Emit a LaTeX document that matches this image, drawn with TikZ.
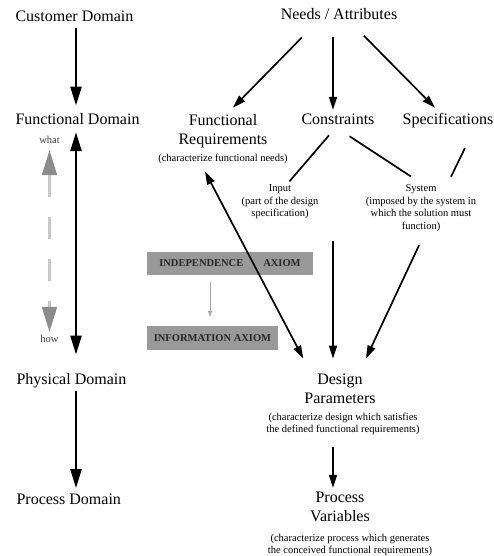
\documentclass[tikz,border=0pt]{standalone}
\usepackage{fontspec}
\setmainfont{Liberation Serif}
\usetikzlibrary{arrows.meta}

\begin{document}
\begin{tikzpicture}[x=1pt, y=-1pt,
        big/.style={font=\fontsize{16}{19}\selectfont, align=center},
        note/.style={font=\fontsize{10.5}{12.5}\selectfont, align=center},
        small/.style={font=\fontsize{10.5}{12.5}\selectfont, text=black!75},
        axiombox/.style={fill=black!40, text=black!85, font=\fontsize{10.5}{12.5}\selectfont\bfseries, minimum height=23pt, inner sep=0pt},
        arr/.style={line width=1.7pt, -{Triangle[length=13pt,width=8pt]}},
        dblarr/.style={line width=1.7pt, {Triangle[length=13pt,width=8pt]}-{Triangle[length=13pt,width=8pt]}},
        bigarr/.style={line width=2.4pt, -{Triangle[length=19pt,width=11pt]}},
        bigdbl/.style={line width=2.4pt, {Triangle[length=19pt,width=11pt]}-{Triangle[length=19pt,width=11pt]}},
        link/.style={line width=1.7pt},
        greydash/.style={draw=black!22, line width=2.2pt, dash pattern=on 22pt off 20pt,
            {Triangle[length=25pt,width=15pt,color=black!45]}-{Triangle[length=25pt,width=15pt,color=black!45]}},
        greyarr/.style={draw=black!35, line width=0.8pt, -{Triangle[length=6pt,width=4pt]}}]

        % 枠
        \useasboundingbox (0,0) rectangle (494,556);

        % 左の列（ドメイン）
        \node[big, anchor=base west] (cd) at (12,22) {Customer Domain};
        \node[big, anchor=base west] (fd) at (12,125) {Functional Domain};
        \node[big, anchor=base west] (pd) at (13,384) {Physical Domain};
        \node[big, anchor=base west] (prd) at (13,504) {Process Domain};
        \node[small] (what) at (49.5,140) {what};
        \node[small] (how) at (49.5,339) {how};
        \coordinate (lcol) at (76,0);

        % 右側
        \node[big, anchor=base] (na) at (339,20) {Needs / Attributes};
        \node[big] (fr) at (223,131) {Functional\\Requirements};
        \node[note, anchor=base] (frnote) at (223,161) {(characterize functional needs)};
        \node[big, anchor=base] (con) at (338,125) {Constraints};
        \node[big, anchor=base] (spec) at (448,125) {Specifications};
        \node[note] (input) at (280,202) {Input\\(part of the design\\specification)};
        \node[note] (system) at (421,208) {System\\(imposed by the system in\\which the solution must\\function)};
        \coordinate (ccol) at (333,0);
        \coordinate (cbot) at (333,241);

        % 公理の箱
        \node[axiombox, minimum width=166pt] (indep) at (230,263.5) {INDEPENDENCE\hspace{20pt}AXIOM};
        \node[axiombox, minimum width=131pt, minimum height=24pt] (info) at (212.5,338) {INFORMATION AXIOM};

        % 下
        \node[big] (dp) at (340,389) {Design\\Parameters};
        \node[note] (dpnote) at (343,424) {(characterize design which satisfies\\the defined functional requirements)};
        \node[big] (pv) at (340,507) {Process\\Variables};
        \node[note] (pvnote) at (350,545) {(characterize process which generates\\the conceived functional requirements)};

        % 左の矢印
        \draw[bigarr, shorten <=2.7pt, shorten >=4.8pt] (cd.south -| lcol) -- (fd.north -| lcol);
        \draw[bigdbl, shorten <=3.5pt, shorten >=14.8pt] (fd.south -| lcol) -- (pd.north -| lcol);
        \draw[bigarr, shorten >=1.8pt] (pd.south -| lcol) -- (prd.north -| lcol);
        \draw[greydash, shorten <=3pt] (what) -- (how);

        % Needs からの矢印
        \draw[arr, shorten <=19.4pt, shorten >=4.2pt] ([xshift=-23.6pt]na.south) -- ([xshift=7pt]fr.north);
        \draw[arr, shorten <=13.4pt, shorten >=1pt] (na.south -| ccol) -- (con.north -| ccol);
        \draw[arr, shorten <=17pt, shorten >=3.5pt] ([xshift=13pt]na.south) -- ([xshift=-10.6pt]spec.north);

        % 制約の線
        \draw[link, shorten <=8.8pt] ([xshift=-3.3pt]con.south) -- ([xshift=9.4pt]input.north);
        \draw[link, shorten <=13.9pt, shorten >=8.4pt] (con.south) -- ([xshift=-3pt]system.north);
        \draw[link, shorten <=18pt, shorten >=4.8pt] ([xshift=24.8pt]spec.south) -- ([xshift=27.9pt]system.north);

        % Design Parameters への矢印
        \draw[dblarr, shorten <=5.3pt, shorten >=13.6pt] ([xshift=-20.5pt]frnote.south) -- ([xshift=-30.4pt]dp.north);
        \draw[arr, shorten >=12pt] (cbot) -- (dp.north -| cbot);
        \draw[arr, shorten <=11.4pt, shorten >=13.3pt] ([xshift=2.9pt]system.south) -- ([xshift=20.3pt]dp.north);
        \draw[arr, shorten <=8.7pt, shorten >=0.7pt] (dpnote.south -| ccol) -- (pv.north -| ccol);

        % 公理の間
        \draw[greyarr, shorten <=7pt, shorten >=9pt] ([xshift=-20pt]indep.south) -- ([xshift=-2.5pt]info.north);
    \end{tikzpicture}
\end{document}
